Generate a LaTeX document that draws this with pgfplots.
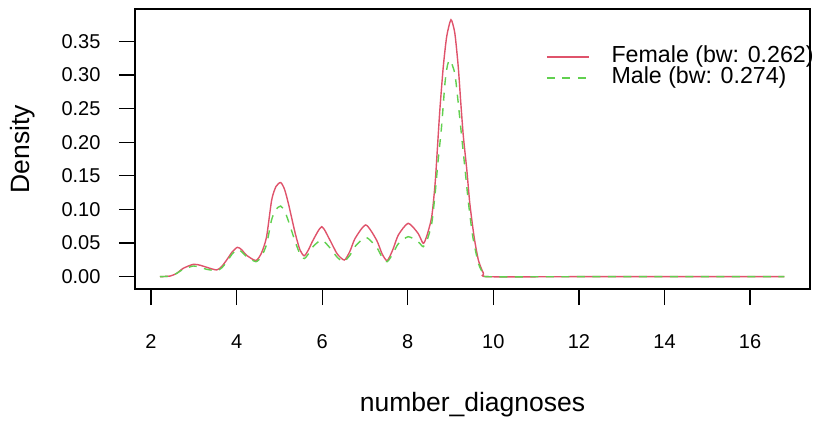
\documentclass[border=0pt]{standalone}
\usepackage{pgfplots}
\pgfplotsset{compat=1.18}
\usepackage{fontspec}
\setmainfont{Liberation Sans}
\definecolor{rred}{HTML}{DF536B}
\definecolor{rgreen}{HTML}{61D04F}
\begin{document}
\begin{tikzpicture}
\path[use as bounding box] (0,0) rectangle (813bp,421bp);
\begin{axis}[
  at={(135bp,132bp)}, anchor=south west,
  width=675bp, height=280bp, scale only axis,
  xmin=1.626, xmax=17.40, ymin=-0.0183, ymax=0.398,
  xtick={2,4,...,16}, ytick={0,0.05,0.10,0.15,0.20,0.25,0.30,0.35},
  xtick pos=bottom, ytick pos=left,
  tick align=outside, major tick length=16bp,
  axis line style={line width=1.3bp},
  every tick/.style={black, line width=1.3bp},
  /pgf/number format/assume math mode=true,
  y tick label style={/pgf/number format/fixed, /pgf/number format/fixed zerofill, /pgf/number format/precision=2},
  tick label style={font=\fontsize{20bp}{24bp}\selectfont},
  xticklabel style={anchor=center, yshift=-37bp},
  yticklabel style={anchor=east, xshift=-15bp},
  label style={font=\fontsize{26.5bp}{30bp}\selectfont},
  xlabel={number\_diagnoses},
  ylabel={Density},
  xlabel style={at={(axis description cs:0.5,0)}, anchor=center, yshift=-116bp},
  ylabel style={at={(axis description cs:-0.166,0.5)}, anchor=center},
  legend style={draw=none, fill=none, at={(axis description cs:0.6044,0.8714)}, anchor=north west,
    font=\fontsize{23.2bp}{24bp}\selectfont, row sep=1bp,
    nodes={inner sep=0pt, text height=15bp, text depth=5bp}},
  legend cell align=left,
  legend image code/.code={\draw[#1, line width=1.4bp] (0bp,0bp) -- (42bp,0bp); \path (64bp,0bp);},
]
\addplot[rred, line width=1.4bp, smooth, tension=0.4] coordinates {
(2.21,0) (2.45,0.001) (2.6,0.005) (2.755,0.0125) (2.99,0.0184) (3.15,0.017) (3.30,0.014) (3.535,0.010) (3.65,0.015) (3.77,0.025) (3.9,0.037) (4.02,0.0437) (4.12,0.040) (4.23,0.032) (4.45,0.024) (4.58,0.035) (4.70,0.059) (4.82,0.114) (4.92,0.134) (5.03,0.140) (5.12,0.130) (5.21,0.109) (5.37,0.0645) (5.48,0.040) (5.58,0.031) (5.68,0.040) (5.79,0.0546) (5.99,0.0743) (6.18,0.0546) (6.35,0.034) (6.52,0.0248) (6.65,0.038) (6.77,0.057) (7.02,0.0769) (7.27,0.0546) (7.40,0.034) (7.52,0.0238) (7.65,0.040) (7.78,0.062) (8.01,0.0794) (8.24,0.0645) (8.36,0.0496) (8.44,0.0595) (8.56,0.089) (8.64,0.139) (8.69,0.188) (8.75,0.248) (8.83,0.312) (8.91,0.357) (9.01,0.382) (9.10,0.362) (9.18,0.312) (9.24,0.258) (9.30,0.208) (9.38,0.159) (9.45,0.109) (9.55,0.0595) (9.65,0.0248) (9.77,0.005) (9.88,0) (12,0) (16.80,0)
};
\addlegendentry{Female (bw: 0.262)}
\addplot[rgreen, line width=1.4bp, dash pattern=on 8bp off 7.5bp, smooth, tension=0.4] coordinates {
(2.21,0) (2.45,0.001) (2.6,0.005) (2.755,0.011) (2.99,0.0159) (3.15,0.014) (3.30,0.011) (3.535,0.009) (3.65,0.013) (3.77,0.022) (3.9,0.034) (4.02,0.0407) (4.12,0.037) (4.23,0.030) (4.45,0.0223) (4.58,0.030) (4.70,0.048) (4.82,0.085) (4.92,0.100) (5.03,0.105) (5.12,0.098) (5.21,0.083) (5.37,0.052) (5.48,0.034) (5.58,0.027) (5.68,0.034) (5.79,0.045) (5.99,0.0546) (6.18,0.043) (6.35,0.029) (6.50,0.0223) (6.65,0.032) (6.77,0.045) (7.02,0.0586) (7.27,0.044) (7.40,0.029) (7.52,0.0223) (7.65,0.034) (7.78,0.049) (8.01,0.0595) (8.24,0.052) (8.36,0.0446) (8.44,0.052) (8.56,0.079) (8.64,0.124) (8.71,0.173) (8.79,0.223) (8.87,0.288) (8.93,0.315) (8.99,0.322) (9.10,0.302) (9.18,0.258) (9.26,0.208) (9.34,0.159) (9.42,0.109) (9.52,0.0595) (9.65,0.02) (9.77,0.004) (9.88,0) (12,0) (16.80,0)
};
\addlegendentry{Male (bw: 0.274)}
\end{axis}
\end{tikzpicture}
\end{document}
